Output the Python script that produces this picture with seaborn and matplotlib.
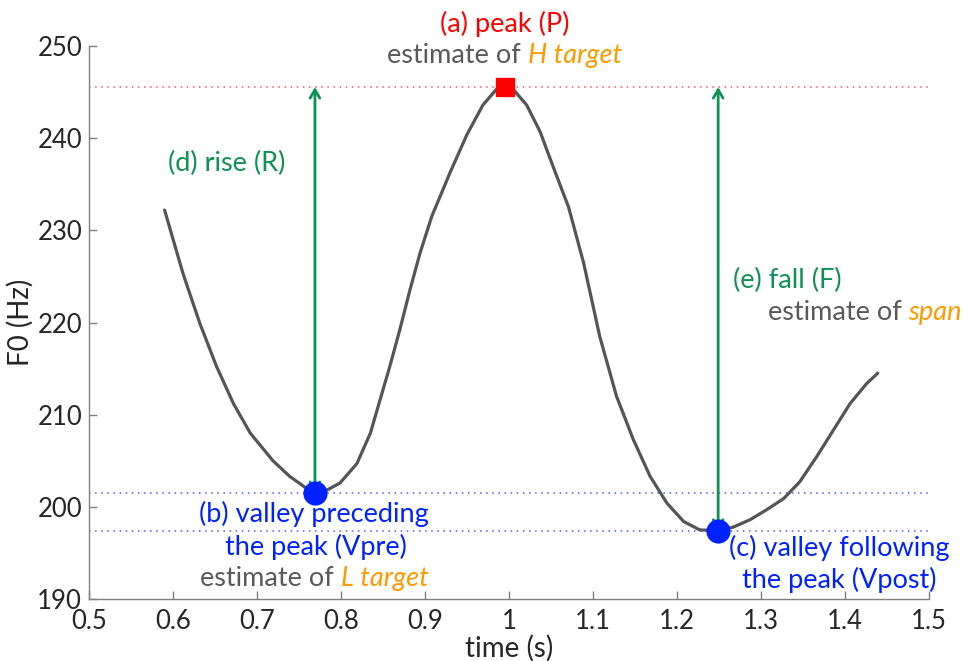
import numpy as np
import pandas as pd
import matplotlib
matplotlib.use('Agg')
import matplotlib.pyplot as plt
import seaborn as sns
from matplotlib.offsetbox import TextArea, HPacker, AnnotationBbox

sns.set_style('ticks')
plt.rcParams['font.family'] = ['Lato', 'DejaVu Sans']

# F0 contour
time_s = [0.590, 0.612, 0.632, 0.652, 0.672, 0.692, 0.719, 0.739, 0.759,
          0.769, 0.783, 0.799, 0.819, 0.835, 0.858, 0.870, 0.882, 0.894, 0.908,
          0.930, 0.950, 0.969, 0.985, 0.995, 1.005, 1.021, 1.037, 1.053, 1.071,
          1.089, 1.108, 1.128, 1.148, 1.168, 1.188, 1.208, 1.227, 1.249, 1.267,
          1.287, 1.307, 1.327, 1.346, 1.366, 1.386, 1.406, 1.426, 1.439]
f0_hz = [232.2, 225.3, 219.9, 215.2, 211.2, 208.0, 205.0, 203.3, 202.0,
         201.5, 201.8, 202.6, 204.7, 208.0, 215.2, 219.2, 223.5, 227.5, 231.5,
         236.3, 240.4, 243.6, 245.3, 245.55, 245.3, 243.6, 240.7, 236.8, 232.5,
         226.4, 218.5, 212.0, 207.3, 203.3, 200.4, 198.4, 197.5, 197.4, 197.8,
         198.6, 199.7, 200.9, 202.7, 205.4, 208.3, 211.2, 213.4, 214.5]

peak_t, peak_f = 0.995, 245.55
vpre_t, vpre_f = 0.769, 201.5
vpost_t, vpost_f = 1.249, 197.4

x_ticks = [0.5, 0.6, 0.7, 0.8, 0.9, 1, 1.1, 1.2, 1.3, 1.4, 1.5]
x_tick_labels = ['0.5', '0.6', '0.7', '0.8', '0.9', '1', '1.1', '1.2', '1.3', '1.4', '1.5']
y_ticks = [190, 200, 210, 220, 230, 240, 250]

red = '#FF0000'
blue = '#0022FF'
green = '#0E9155'
grey = '#595959'
orange = '#FF9900'

fig = plt.figure(figsize=(9.64, 6.61), dpi=100)
ax = fig.add_axes([0.0923, 0.0938, 0.8714, 0.8366])

df = pd.DataFrame({'time': time_s, 'f0': f0_hz})

# reference levels
ax.axhline(peak_f, color='#FF5555', lw=1.1, ls=(0, (1, 3)), zorder=1)
ax.axhline(vpre_f, color='#5555FF', lw=1.1, ls=(0, (1, 3)), zorder=1)
ax.axhline(vpost_f, color='#5555FF', lw=1.1, ls=(0, (1, 3)), zorder=1)

sns.lineplot(data=df, x='time', y='f0', color='#555555', lw=2.3, ax=ax, zorder=3)

# rise / fall arrows
arrow_kw = dict(arrowstyle='<->,head_length=0.6,head_width=0.35', color=green, lw=2,
                shrinkA=0, shrinkB=0)
ax.annotate('', xy=(vpre_t, peak_f), xytext=(vpre_t, vpre_f), arrowprops=arrow_kw, zorder=4)
ax.annotate('', xy=(vpost_t, peak_f), xytext=(vpost_t, vpost_f), arrowprops=arrow_kw, zorder=4)

sns.scatterplot(x=[peak_t], y=[peak_f], marker='s', s=150, color=red, edgecolor=red,
                ax=ax, zorder=5)
sns.scatterplot(x=[vpre_t, vpost_t], y=[vpre_f, vpost_f], marker='o', s=260, color=blue,
                edgecolor=blue, ax=ax, zorder=5)

ax.set_xlim(0.5, 1.5)
ax.set_ylim(190, 250)
ax.set_xticks(x_ticks)
ax.set_xticklabels(x_tick_labels)
ax.set_yticks(y_ticks)
ax.tick_params(direction='in', length=6, width=1, color='#808080', labelsize=18.5,
               labelcolor='#262626')
ax.tick_params(axis='x', pad=7)
ax.tick_params(axis='y', pad=5)
for s in ['top', 'right']:
    ax.spines[s].set_visible(False)
for s in ['left', 'bottom']:
    ax.spines[s].set_color('#808080')
    ax.spines[s].set_linewidth(1)
ax.set_xlabel('time (s)', fontsize=20, color='#262626')
ax.set_ylabel('F0 (Hz)', fontsize=20, color='#262626')
ax.xaxis.set_label_coords(0.5, -0.064)
ax.yaxis.set_label_coords(-0.066, 0.5)

FS = 19.5


def rich(x, y, parts, align=(0.5, 0.5)):
    boxes = [TextArea(t, textprops=dict(color=c, style=st, fontsize=FS)) for t, c, st in parts]
    pack = HPacker(children=boxes, align='baseline', pad=0, sep=0)
    ab = AnnotationBbox(pack, (x, y), xycoords='data', box_alignment=align,
                        frameon=False, pad=0, annotation_clip=False, zorder=6)
    ax.add_artist(ab)


rich(0.995, 252.4, [('(a) peak (P)', red, 'normal')])
rich(0.995, 249.0, [('estimate of ', grey, 'normal'), ('H target', orange, 'italic')])
rich(0.664, 237.3, [('(d) rise (R)', green, 'normal')])
rich(1.267, 224.6, [('(e) fall (F)', green, 'normal')], align=(0, 0.5))
rich(1.308, 221.1, [('estimate of ', grey, 'normal'), ('span', orange, 'italic')], align=(0, 0.5))
rich(0.768, 199.2, [('(b) valley preceding', blue, 'normal')])
rich(0.770, 195.6, [('the peak (Vpre)', blue, 'normal')])
rich(0.768, 192.2, [('estimate of ', grey, 'normal'), ('L target', orange, 'italic')])
rich(1.393, 195.5, [('(c) valley following', blue, 'normal')])
rich(1.393, 192.1, [('the peak (Vpost)', blue, 'normal')])

fig.savefig('out.png', dpi=100)
